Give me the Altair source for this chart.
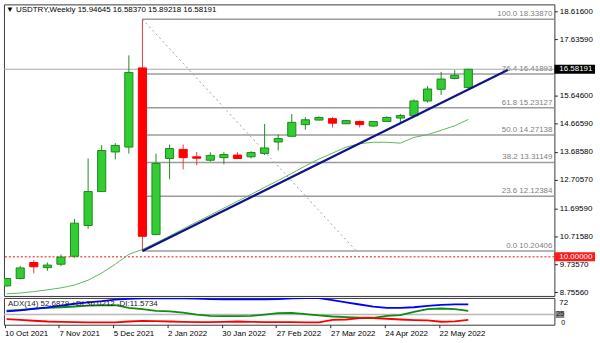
import json
import altair as alt
import pandas as pd

FONT = "Liberation Sans"

# ---------------- data ----------------
bars = list(range(35))
opens = [8.98, 9.24, 9.80, 9.62, 9.74, 10.02, 11.10, 12.29, 13.68, 13.85,
         16.63, 10.78, 13.45, 13.77, 13.51, 13.39, 13.48, 13.57, 13.51, 13.63,
         14.03, 14.23, 14.64, 14.80, 14.85, 14.67, 14.75, 14.59, 14.75, 14.87,
         14.95, 15.47, 15.88, 16.26, 15.94645]
highs = [9.26, 9.68, 9.88, 9.80, 10.08, 11.33, 13.45, 13.92, 13.99, 17.07,
         18.33870, 13.62, 13.94, 13.94, 13.68, 13.67, 13.67, 13.67, 13.71, 14.66,
         14.29, 15.01, 14.90, 14.93, 14.90, 14.80, 14.78, 14.76, 14.93, 15.01,
         15.53, 15.99, 16.49, 16.55, 16.58370]
lows = [8.96, 9.21, 9.42, 9.51, 9.67, 9.97, 10.98, 12.28, 13.42, 13.62,
        10.20406, 10.76, 12.72, 13.07, 13.21, 13.34, 13.25, 13.43, 13.45, 13.57,
        13.73, 14.22, 14.46, 14.79, 14.54, 14.66, 14.54, 14.57, 14.73, 14.73,
        14.93, 15.41, 15.68, 16.23, 15.89218]
closes = [9.24, 9.61, 9.65, 9.71, 9.99, 11.18, 12.29, 13.73, 13.91, 16.47,
          10.72, 13.28, 13.80, 13.48, 13.46, 13.56, 13.59, 13.45, 13.66, 13.82,
          14.15, 14.72, 14.81, 14.89, 14.69, 14.78, 14.64, 14.75, 14.89, 14.96,
          15.47, 15.89, 16.24, 16.37, 16.58191]
ma_values = [8.70, 8.73, 8.78, 8.84, 8.91, 9.01, 9.18, 9.43, 9.74, 10.09,
             10.26, 10.49, 10.73, 10.98, 11.22, 11.46, 11.71, 11.95, 12.19, 12.44,
             12.68, 12.93, 13.19, 13.43, 13.64, 13.85, 13.97, 14.02, 14.02, 13.99,
             14.19, 14.29, 14.44, 14.60, 14.82]

adx_vals = [33.7, 36.8, 41.0, 45.1, 50.3, 55.5, 59.6, 62.7, 66.9, 69.5,
            70.5, 70.5, 70.5, 70.5, 70.0, 68.4, 67.9, 67.9, 67.9, 67.9,
            68.9, 70.5, 71.5, 71.5, 65.8, 59.6, 53.4, 47.2, 44.1, 44.1,
            45.6, 49.3, 52.4, 53.5, 54.0]
plus_di = [35.8, 38.4, 41.5, 44.1, 45.6, 47.7, 50.3, 51.3, 51.3, 44.1,
           40.0, 35.5, 33.7, 30.6, 25.0, 21.3, 20.5, 20.5, 21.3, 25.0,
           29.0, 29.9, 26.2, 22.3, 19.4, 17.7, 15.8, 15.8, 21.3, 23.4,
           32.7, 40.0, 42.0, 40.0, 35.5]
minus_di = [12.0, 9.9, 7.3, 5.2, 4.2, 3.2, 2.7, 2.7, 2.7, 5.2,
            6.8, 6.3, 5.2, 4.2, 3.2, 3.2, 4.2, 5.2, 4.2, 3.2,
            3.2, 3.2, 2.7, 2.7, 10.1, 10.9, 14.7, 14.7, 13.0, 10.9,
            9.2, 8.2, 4.5, 5.4, 10.1]
adx_level = [25]
adx_text = "ADX(14) 52.6879 +DI:36.0212 -DI:11.5734"

fib_pct = [0.0, 23.6, 38.2, 50.0, 61.8, 76.4, 100.0]
fib_price = [10.20406, 12.12384, 13.31149, 14.27138, 15.23127, 16.41893, 18.33870]
fib_anchor_bar = 10
fib_diag_end_bar = 25.75

trend_bars = [10, 36.9]
trend_prices = [10.20406, 16.56]

alert_level = [10.0]

price_ticks = [18.61600, 17.63590, 15.64600, 14.66590, 13.68580,
               12.70570, 11.69590, 10.71580, 9.73570, 8.75560]
x_label_bars = [0, 4, 8, 12, 16, 20, 24, 28, 32]
x_labels = ["10 Oct 2021", "7 Nov 2021", "5 Dec 2021", "2 Jan 2022", "30 Jan 2022",
            "27 Feb 2022", "27 Mar 2022", "24 Apr 2022", "22 May 2022"]

symbol_title = "\u25BC USDTRY,Weekly  {:.5f} {:.5f} {:.5f} {:.5f}".format(
    opens[-1], highs[-1], lows[-1], closes[-1])

# ---------------- layout constants ----------------
W, H_MAIN, H_ADX = 555, 294, 27
X_MIN, X_MAX = -0.197, 40.34
P_MIN, P_MAX = 8.6265, 18.8596
A_MIN, A_MAX = -3.9, 72.0
TICK_SHIFT = 0.15
HALF_BODY = 0.3

xs = alt.Scale(domain=[X_MIN, X_MAX], nice=False, zero=False)
ys = alt.Scale(domain=[P_MIN, P_MAX], nice=False, zero=False)
ya = alt.Scale(domain=[A_MIN, A_MAX], nice=False, zero=False)

price_axis = alt.Axis(orient="right", values=price_ticks, format=".5f", title=None,
                      grid=False, domain=False, tickSize=3, tickColor="#222",
                      labelPadding=2, labelFont=FONT, labelFontSize=8,
                      labelColor="#000", labelOverlap=False, labelFlush=False)
labels_js = json.dumps(x_labels)
x_axis = alt.Axis(values=[b - TICK_SHIFT for b in x_label_bars],
                  labelExpr=f"{labels_js}[round((datum.value + {TICK_SHIFT}) / 4)]",
                  labelAlign="left", tickSize=3, tickColor="#222", labelPadding=2,
                  domain=False, grid=False, title=None, labelFont=FONT, labelFontSize=8,
                  labelColor="#000", labelFlush=False, labelOverlap=False)


def PX(field):
    return alt.X(field, scale=xs, axis=None)


def PY(field):
    return alt.Y(field, scale=ys, axis=price_axis)


def AX(field):
    return alt.X(field, scale=xs, axis=x_axis)


def AY(field):
    return alt.Y(field, scale=ya, axis=None)


df = pd.DataFrame({"i": bars, "open": opens, "high": highs, "low": lows,
                   "close": closes, "ma": ma_values})
fib_df = pd.DataFrame({"pct": fib_pct, "price": fib_price})
fib_df["start"] = fib_anchor_bar
fib_df["label"] = [f"{p:.1f} {v:.5f}" for p, v in zip(fib_pct, fib_price)]

UP = "datum.close >= datum.open"
DN = "datum.close < datum.open"

base = alt.Chart(df)

fib_lines = alt.Chart(fib_df).mark_rule(color="#9c9c9c", strokeWidth=1.5).encode(
    x=PX("start:Q"), x2=alt.value(W), y=PY("price:Q"))
fib_labels = alt.Chart(fib_df).mark_text(
    align="right", baseline="bottom", dy=-1, font=FONT, fontSize=8, color="#808080"
).encode(x=alt.value(W - 2), y=PY("price:Q"), text="label:N")

bid_line = alt.Chart(pd.DataFrame({"p": [closes[-1]]})).mark_rule(
    color="#a8a8a8", strokeWidth=1).encode(y=PY("p:Q"))

alert_line = alt.Chart(pd.DataFrame({"p": alert_level})).mark_rule(
    color="#ff5a5a", strokeWidth=1.5, strokeDash=[2, 2]).encode(y=PY("p:Q"))

diag = alt.Chart(pd.DataFrame({"x1": [fib_anchor_bar], "y1": [fib_price[-1]],
                               "x2": [fib_diag_end_bar], "y2": [fib_price[0]]})).mark_rule(
    color="#9aa0b4", strokeWidth=1, strokeDash=[2, 3]).encode(
    x=PX("x1:Q"), x2="x2:Q", y=PY("y1:Q"), y2="y2:Q")

ma_line = base.mark_line(color="#5cb85c", strokeWidth=1, clip=True).encode(
    x=PX("i:Q"), y=PY("ma:Q"))

wick_up = base.transform_filter(UP).mark_rule(color="#1e8c1e", strokeWidth=1, clip=True).encode(
    x=PX("i:Q"), y=PY("low:Q"), y2="high:Q")
wick_dn = base.transform_filter(DN).mark_rule(color="#d94040", strokeWidth=1, clip=True).encode(
    x=PX("i:Q"), y=PY("low:Q"), y2="high:Q")

body_calc = dict(xl=f"datum.i - {HALF_BODY}", xr=f"datum.i + {HALF_BODY}")
body_up = base.transform_filter(UP).transform_calculate(**body_calc).mark_rect(
    fill="#32cd32", stroke="#1a8a1a", strokeWidth=1, clip=True).encode(
    x=PX("xl:Q"), x2="xr:Q", y=PY("open:Q"), y2="close:Q")
body_dn = base.transform_filter(DN).transform_calculate(**body_calc).mark_rect(
    fill="#ff0000", stroke="#ff0000", strokeWidth=1, clip=True).encode(
    x=PX("xl:Q"), x2="xr:Q", y=PY("open:Q"), y2="close:Q")

trend = alt.Chart(pd.DataFrame({"x1": [trend_bars[0]], "x2": [trend_bars[1]],
                                "y1": [trend_prices[0]], "y2": [trend_prices[1]]})).mark_rule(
    color="#12128a", strokeWidth=2.2).encode(
    x=PX("x1:Q"), x2="x2:Q", y=PY("y1:Q"), y2="y2:Q")

title_txt = alt.Chart(pd.DataFrame({"t": [symbol_title]})).mark_text(
    align="left", baseline="middle", font=FONT, fontSize=8, color="#000").encode(
    x=alt.value(2), y=alt.value(5.5), text="t:N")

box_df = pd.DataFrame({"p": [closes[-1], alert_level[0]],
                       "label": [f"{closes[-1]:.5f}", f"{alert_level[0]:.5f}"],
                       "c": ["#000000", "#ff1a1a"]})
boxes = alt.Chart(box_df).mark_rule(strokeWidth=9).encode(
    x=alt.value(W), x2=alt.value(W + 41), y=PY("p:Q"),
    color=alt.Color("c:N", scale=None, legend=None))
box_text = alt.Chart(box_df).mark_text(
    align="left", baseline="middle", font=FONT, fontSize=8, color="#ffffff").encode(
    x=alt.value(W + 5), y=PY("p:Q"), text="label:N")

main = alt.layer(fib_lines, fib_labels, bid_line, alert_line, diag, ma_line,
                 wick_up, wick_dn, body_up, body_dn, trend, title_txt,
                 boxes, box_text).properties(width=W, height=H_MAIN)

# ---------------- ADX panel ----------------
adx_df = pd.DataFrame({"i": bars, "adx": adx_vals, "pdi": plus_di, "mdi": minus_di})
abase = alt.Chart(adx_df)
level = alt.Chart(pd.DataFrame({"v": adx_level})).mark_rule(
    color="#b8b8b8", strokeWidth=1.5).encode(y=AY("v:Q"))
adx_line = abase.mark_line(color="#0000ff", strokeWidth=1.8, clip=True).encode(
    x=AX("i:Q"), y=AY("adx:Q"))
pdi_line = abase.mark_line(color="#108a10", strokeWidth=1.8, clip=True).encode(
    x=AX("i:Q"), y=AY("pdi:Q"))
mdi_line = abase.mark_line(color="#ff0000", strokeWidth=1.8, clip=True).encode(
    x=AX("i:Q"), y=AY("mdi:Q"))
adx_label = alt.Chart(pd.DataFrame({"t": [adx_text]})).mark_text(
    align="left", baseline="middle", font=FONT, fontSize=8, color="#222").encode(
    x=alt.value(4), y=alt.value(6), text="t:N")

top_lab = alt.Chart(pd.DataFrame({"v": [A_MAX], "t": ["72"]})).mark_text(
    align="left", baseline="top", dy=1, font=FONT, fontSize=8, color="#000").encode(
    x=alt.value(W + 5), y=AY("v:Q"), text="t:N")
zero_lab = alt.Chart(pd.DataFrame({"v": [0], "t": ["0"]})).mark_text(
    align="left", baseline="middle", dy=0, font=FONT, fontSize=7, color="#000").encode(
    x=alt.value(W + 7), y=AY("v:Q"), text="t:N")
lvl_box = alt.Chart(pd.DataFrame({"v": adx_level})).mark_rule(
    color="#8a8a8a", strokeWidth=7).encode(
    x=alt.value(W + 1), x2=alt.value(W + 10), y=AY("v:Q"))
lvl_txt = alt.Chart(pd.DataFrame({"v": adx_level, "t": ["25"]})).mark_text(
    align="left", baseline="middle", font=FONT, fontSize=7, color="#222").encode(
    x=alt.value(W + 2), y=AY("v:Q"), text="t:N")

adx_panel = alt.layer(level, pdi_line, mdi_line, adx_line, adx_label,
                      top_lab, zero_lab, lvl_box, lvl_txt).properties(width=W, height=H_ADX)

chart = alt.vconcat(main, adx_panel, spacing=2, bounds="flush").properties(
    padding={"left": 2, "top": 2, "right": 0, "bottom": 0},
    background="white",
).configure_view(stroke="#3a3a3a", strokeWidth=1)

chart.save("out.html", embed_options={"renderer": "svg", "actions": False})
